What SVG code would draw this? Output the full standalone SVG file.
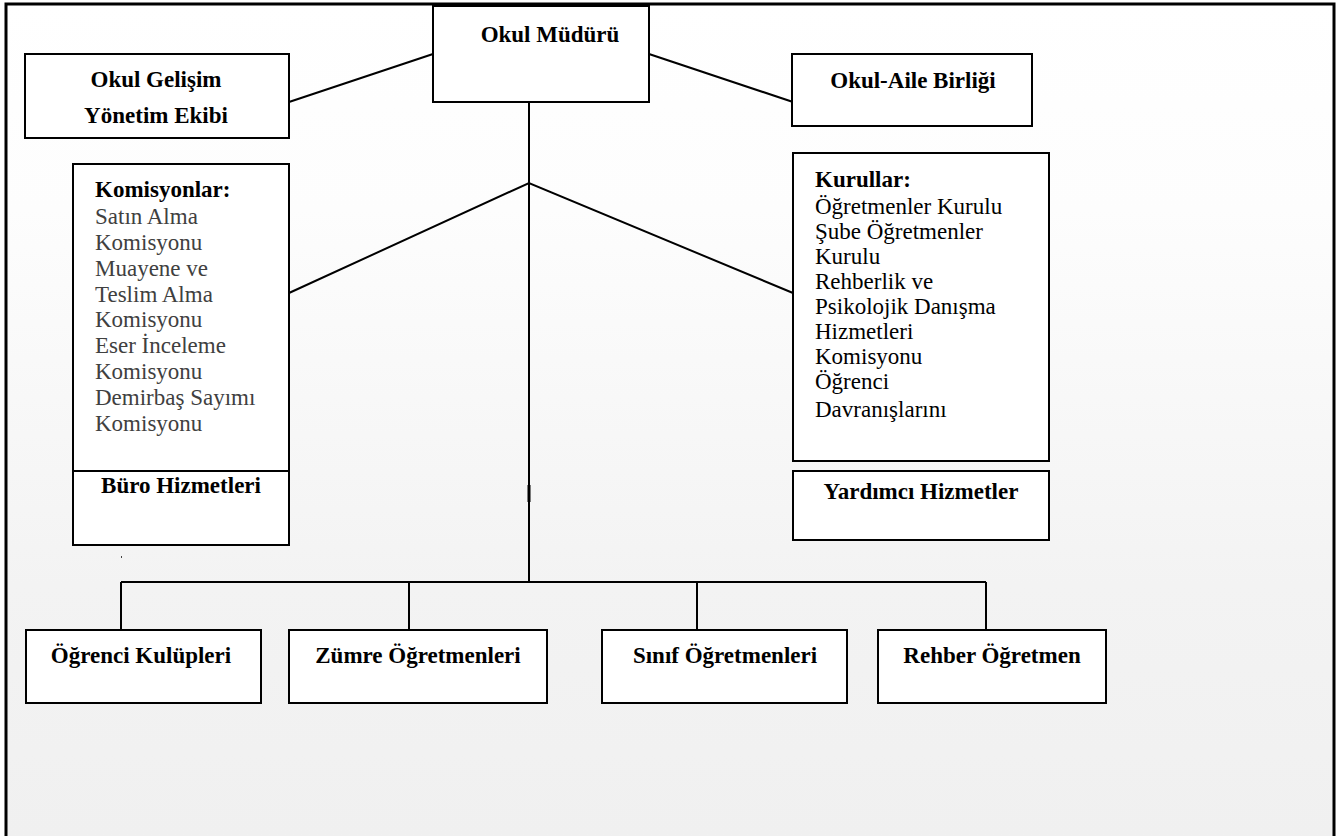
<svg xmlns="http://www.w3.org/2000/svg" width="1339" height="836" viewBox="0 0 1339 836">
<defs>
<linearGradient id="bg" x1="0" y1="0" x2="0" y2="836" gradientUnits="userSpaceOnUse">
<stop offset="0" stop-color="#ffffff"/>
<stop offset="0.25" stop-color="#fdfdfd"/>
<stop offset="0.7" stop-color="#f3f3f3"/>
<stop offset="1" stop-color="#f0f0f0"/>
</linearGradient>
<style>
.box{fill:#ffffff;stroke:#000;stroke-width:2}
.hd{font-family:"Liberation Serif","Times New Roman",serif;font-weight:bold;font-size:23px;fill:#000;text-anchor:middle}
.hl{font-family:"Liberation Serif","Times New Roman",serif;font-weight:bold;font-size:23px;fill:#000}
.gr{font-family:"Liberation Serif","Times New Roman",serif;font-size:23px;fill:#404040}
.bk{font-family:"Liberation Serif","Times New Roman",serif;font-size:23px;fill:#000}
.ln{stroke:#000;stroke-width:2;fill:none}
</style>
</defs>
<rect x="0" y="0" width="1339" height="836" fill="#ffffff"/>
<rect x="6" y="4" width="1328" height="840" fill="url(#bg)" stroke="#000" stroke-width="3"/>

<g id="connectors">
<line class="ln" x1="289" y1="102" x2="433" y2="54"/>
<line class="ln" x1="649" y1="54" x2="793" y2="102"/>
<line class="ln" x1="529" y1="102" x2="529" y2="583"/>
<polyline class="ln" points="289,293 529,183 793,293"/>
<line class="ln" x1="121" y1="582" x2="986" y2="582"/>
<line class="ln" x1="121" y1="582" x2="121" y2="630"/>
<line class="ln" x1="409" y1="582" x2="409" y2="630"/>
<line class="ln" x1="697" y1="582" x2="697" y2="630"/>
<line class="ln" x1="986" y1="582" x2="986" y2="630"/>
<rect x="527.5" y="485" width="3" height="17" fill="#000"/>
<rect x="121" y="556" width="1" height="2" fill="#444"/>
</g>

<g id="okul-muduru">
<rect class="box" x="433" y="6" width="216" height="96"/>
<text class="hd" x="550" y="42">Okul Müdürü</text>
</g>

<g id="okul-gelisim">
<rect class="box" x="25" y="54" width="264" height="84"/>
<text class="hd" x="156" y="87">Okul Gelişim</text>
<text class="hd" x="156" y="123">Yönetim Ekibi</text>
</g>

<g id="okul-aile">
<rect class="box" x="792" y="54" width="240" height="72"/>
<text class="hd" x="913" y="88">Okul-Aile Birliği</text>
</g>

<g id="komisyonlar">
<rect class="box" x="73" y="164" width="216" height="307"/>
<text class="hl" x="95" y="197">Komisyonlar:</text>
<text class="gr" x="95" y="224">Satın Alma</text>
<text class="gr" x="95" y="250">Komisyonu</text>
<text class="gr" x="95" y="276">Muayene ve</text>
<text class="gr" x="95" y="302">Teslim Alma</text>
<text class="gr" x="95" y="327">Komisyonu</text>
<text class="gr" x="95" y="353">Eser İnceleme</text>
<text class="gr" x="95" y="379">Komisyonu</text>
<text class="gr" x="95" y="405">Demirbaş Sayımı</text>
<text class="gr" x="95" y="431">Komisyonu</text>
</g>

<g id="buro-hizmetleri">
<rect class="box" x="73" y="471" width="216" height="74"/>
<text class="hd" x="181" y="493">Büro Hizmetleri</text>
</g>

<g id="kurullar">
<rect class="box" x="793" y="153" width="256" height="308"/>
<text class="hl" x="815" y="187">Kurullar:</text>
<text class="bk" x="815" y="214">Öğretmenler Kurulu</text>
<text class="bk" x="815" y="239">Şube Öğretmenler</text>
<text class="bk" x="815" y="264">Kurulu</text>
<text class="bk" x="815" y="289">Rehberlik ve</text>
<text class="bk" x="815" y="314">Psikolojik Danışma</text>
<text class="bk" x="815" y="339">Hizmetleri</text>
<text class="bk" x="815" y="364">Komisyonu</text>
<text class="bk" x="815" y="389">Öğrenci</text>
<text class="bk" x="815" y="417">Davranışlarını</text>
</g>

<g id="yardimci-hizmetler">
<rect class="box" x="793" y="471" width="256" height="69"/>
<text class="hd" x="921" y="499">Yardımcı Hizmetler</text>
</g>

<g id="ogrenci-kulupleri">
<rect class="box" x="26" y="630" width="235" height="73"/>
<text class="hd" x="141" y="663">Öğrenci Kulüpleri</text>
</g>

<g id="zumre-ogretmenleri">
<rect class="box" x="289" y="630" width="258" height="73"/>
<text class="hd" x="418" y="663">Zümre Öğretmenleri</text>
</g>

<g id="sinif-ogretmenleri">
<rect class="box" x="602" y="630" width="245" height="73"/>
<text class="hd" x="725" y="663">Sınıf Öğretmenleri</text>
</g>

<g id="rehber-ogretmen">
<rect class="box" x="878" y="630" width="228" height="73"/>
<text class="hd" x="992" y="663">Rehber Öğretmen</text>
</g>
</svg>
